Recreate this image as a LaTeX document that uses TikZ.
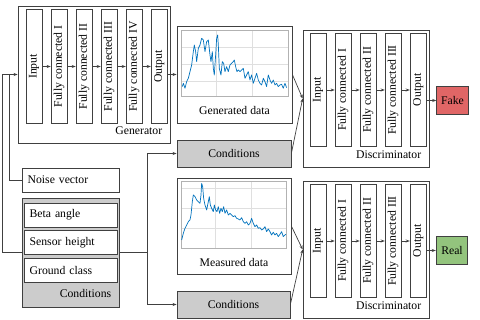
\documentclass[tikz,border=0pt]{standalone}
\usepackage{fontspec}
\setmainfont{Liberation Serif}
\usetikzlibrary{arrows.meta, positioning, calc}

\definecolor{edge}{RGB}{64,64,64}
\definecolor{condgray}{RGB}{204,204,204}
\definecolor{fakered}{RGB}{224,102,102}
\definecolor{realgreen}{RGB}{147,196,125}
\definecolor{plotblue}{RGB}{0,114,189}

\begin{document}
\begin{tikzpicture}[
    x = 0.03cm, y = -0.03cm,
    node distance = 0.25cm,
    every node/.style = {font=\normalsize},
    group/.style = {
        rectangle,
        draw=edge,
        line width=0.6pt,
        inner sep=0pt
    },
    layer/.style = {
        group,
        fill=white,
        minimum width=0.48cm,
        minimum height=3.4cm
    },
    field/.style = {
        group,
        fill=white,
        inner xsep=0.17cm,
        text width=2.45cm,
        minimum height=0.72cm,
        align=left
    },
    cond/.style = {
        group,
        fill=condgray,
        minimum height=0.81cm
    },
    verdict/.style = {
        group,
        minimum width=0.95cm,
        minimum height=0.84cm
    },
    arr/.style = {
        -{Stealth[length=3.5pt,width=2.6pt]},
        line width=0.6pt,
        draw=edge
    },
    gridline/.style = {line width=0.3pt, draw=gray!25},
    frameline/.style = {line width=0.5pt, draw=gray!60},
    plotline/.style = {line width=0.6pt, draw=plotblue, line join=round}
]
\useasboundingbox (0,0) rectangle (480,320);

%% Generator
\node[group, minimum width=4.56cm, minimum height=4.11cm] (gen) at (94,74.5) {};
\node[anchor=south east] (genlbl) at ($(gen.south east)+(-4,-5)$) {Generator};

\node[layer] (gin) at (34,66.5) {\rotatebox{90}{Input}};
\node[layer, right=of gin]  (gfc1) {\rotatebox{90}{Fully connected I}};
\node[layer, right=of gfc1] (gfc2) {\rotatebox{90}{Fully connected II}};
\node[layer, right=of gfc2] (gfc3) {\rotatebox{90}{Fully connected III}};
\node[layer, right=of gfc3] (gfc4) {\rotatebox{90}{Fully connected IV}};
\node[layer, right=of gfc4] (gout) {\rotatebox{90}{Output}};

\draw[arr] (gin)  -- (gfc1);
\draw[arr] (gfc1) -- (gfc2);
\draw[arr] (gfc2) -- (gfc3);
\draw[arr] (gfc3) -- (gfc4);
\draw[arr] (gfc4) -- (gout);

%% Generated data
\node[group, minimum width=3.45cm, minimum height=2.91cm] (gdata) at (234.5,74.5) {};
\begin{scope}[shift={(175,25)}, x=0.01cm, y=-0.01cm]
    \draw[gridline] (125,15) -- (125,215) (233,15) -- (233,215)
        (18,68) -- (340,68) (18,118) -- (340,118) (18,168) -- (340,168);
    \draw[frameline] (18,15) rectangle (340,215);
    \draw[plotline] plot coordinates {
        (22,185) (25,175) (30,190) (35,170) (40,160) (45,140) (50,120)
        (55,80) (58,60) (62,80) (65,110) (70,70) (75,60) (80,40) (85,45)
        (90,80) (95,50) (100,45) (105,90) (108,110) (112,80) (115,130)
        (118,150) (122,90) (125,40) (128,30) (130,60) (133,130) (138,150)
        (142,110) (146,115) (150,140) (155,125) (160,140) (165,120)
        (170,115) (175,110) (178,105) (182,125) (186,140) (190,135)
        (195,140) (200,135) (205,130) (210,160) (215,150) (220,140)
        (225,165) (230,150) (235,175) (240,160) (245,145) (250,165)
        (255,175) (260,180) (265,160) (270,170) (275,185) (280,150)
        (285,165) (290,175) (295,165) (300,180) (305,175) (310,185)
        (315,180) (320,178) (325,190) (330,175) (335,188)};
\end{scope}
\node (gdatalbl) at (234.5,110) {Generated data};

%% Conditions for the generated branch
\node[cond, minimum width=3.42cm] (gcond) at (234,153.5) {Conditions};

%% Discriminator, generated branch
\node[group, minimum width=3.78cm, minimum height=4.11cm] (disc1) at (366,98.5) {};
\node[anchor=south east] (disc1lbl) at ($(disc1.south east)+(-4,-5)$) {Discriminator};

\node[layer] (ain) at (318,90) {\rotatebox{90}{Input}};
\node[layer, right=of ain]  (afc1) {\rotatebox{90}{Fully connected I}};
\node[layer, right=of afc1] (afc2) {\rotatebox{90}{Fully connected II}};
\node[layer, right=of afc2] (afc3) {\rotatebox{90}{Fully connected III}};
\node[layer, right=of afc3] (aout) {\rotatebox{90}{Output}};

\draw[arr] (ain)  -- (afc1);
\draw[arr] (afc1) -- (afc2);
\draw[arr] (afc2) -- (afc3);
\draw[arr] (afc3) -- (aout);

\node[verdict, fill=fakered] (fake) at (452.5,100.5) {Fake};

%% Measured data
\node[group, minimum width=3.42cm, minimum height=2.88cm] (mdata) at (234,226) {};
\begin{scope}[shift={(175,175)}, x=0.01cm, y=-0.01cm]
    \draw[gridline] (120,20) -- (120,220) (228,20) -- (228,220)
        (18,39) -- (335,39) (18,100) -- (335,100) (18,160) -- (335,160);
    \draw[frameline] (18,20) rectangle (335,220);
    \draw[plotline] plot coordinates {
        (20,195) (25,175) (30,160) (35,150) (40,140) (45,135) (48,120)
        (52,80) (55,60) (60,65) (65,75) (70,80) (75,85) (78,60) (80,25)
        (83,35) (86,70) (90,90) (95,105) (100,80) (103,65) (106,90)
        (110,100) (115,110) (118,90) (122,105) (126,110) (130,95)
        (134,115) (138,100) (142,110) (146,95) (150,115) (155,105)
        (160,120) (165,115) (170,120) (175,125) (180,122) (185,130)
        (190,132) (195,135) (200,128) (205,140) (210,145) (215,140)
        (220,150) (225,145) (230,130) (235,145) (240,155) (245,150)
        (250,160) (255,158) (260,165) (265,162) (270,155) (275,170)
        (280,162) (285,170) (290,180) (295,172) (300,180) (305,175)
        (310,185) (315,178) (320,170) (325,185) (330,180) (333,178)};
\end{scope}
\node (mdatalbl) at (234,262) {Measured data};

%% Conditions for the measured branch
\node[cond, minimum width=3.39cm] (mcond) at (233.5,304.5) {Conditions};

%% Discriminator, measured branch
\node[group, minimum width=3.78cm, minimum height=4.11cm] (disc2) at (366,249.5) {};
\node[anchor=south east] (disc2lbl) at ($(disc2.south east)+(-4,-5)$) {Discriminator};

\node[layer] (bin) at (318,241) {\rotatebox{90}{Input}};
\node[layer, right=of bin]  (bfc1) {\rotatebox{90}{Fully connected I}};
\node[layer, right=of bfc1] (bfc2) {\rotatebox{90}{Fully connected II}};
\node[layer, right=of bfc2] (bfc3) {\rotatebox{90}{Fully connected III}};
\node[layer, right=of bfc3] (bout) {\rotatebox{90}{Output}};

\draw[arr] (bin)  -- (bfc1);
\draw[arr] (bfc1) -- (bfc2);
\draw[arr] (bfc2) -- (bfc3);
\draw[arr] (bfc3) -- (bout);

\node[verdict, fill=realgreen] (real) at (452,250.5) {Real};

%% Inputs on the left
\node[field, text width=2.57cm] (noise) at (70.5,180) {Noise vector};
\node[group, fill=condgray, minimum width=2.91cm, minimum height=3.27cm] (conds) at (70.5,252.5) {};
\node[anchor=south east] (condslbl) at ($(conds.south east)+(-4,-6)$) {Conditions};
\node[field] (beta)   at (70.5,215)   {Beta angle};
\node[field] (sensor) at (70.5,242.5) {Sensor height};
\node[field] (ground) at (70.5,270)   {Ground class};

%% Connections
\draw[arr] (conds.west) -- ++(-19,0) |- (gen.west);
\draw[line width=0.6pt, draw=edge] (noise.west) -| ($(gen.west)+(-8,0)$);
\draw[arr] (conds.east) -| ($(gcond.west)+(-29,0)$) -- (gcond.west);
\draw[arr] (conds.east) -| ($(mcond.west)+(-29,0)$) -- (mcond.west);

\draw[arr] (gout.east |- gdata) -- (gdata);
\draw[arr] (gdata.east) -- (disc1.west);
\draw[arr] (gcond.east) -- (disc1.west);
\draw[arr] (mdata.east) -- (disc2.west);
\draw[arr] (mcond.east) -- (disc2.west);

\draw[arr] (aout.east |- fake) -- (fake);
\draw[arr] (bout.east |- real) -- (real);

\end{tikzpicture}
\end{document}
